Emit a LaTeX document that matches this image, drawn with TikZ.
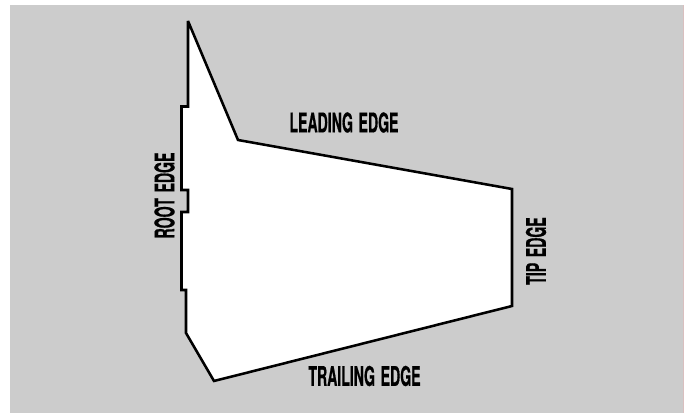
\documentclass[tikz,border=0pt]{standalone}
\usepackage{fontspec}
\setmainfont[FakeStretch=0.52,FakeBold=0.6]{TeX Gyre Heros Bold}

\begin{document}
\begin{tikzpicture}[outline/.style={line width=1.45pt, miter limit=2, fill=white}, label/.style={font=\fontsize{15.4}{16}\selectfont, inner sep=0pt}]

\useasboundingbox (0,0) rectangle (13.88,8.26);
\fill[black!20] (0.2,0) rectangle (13.66,8.16); \draw[red!40!black!25, line width=0.3pt] (13.66,0)--(13.66,8.16);
\draw[outline] (3.76,7.84)--(4.76,5.46)--(10.24,4.48)--(10.24,2.14)--(4.28,0.64)--(3.72,1.60)--(3.72,2.46)--(3.63,2.46)--(3.63,4.02)--(3.76,4.02)--(3.76,4.46)--(3.63,4.46)--(3.63,6.13)--(3.76,6.13)--cycle;
\node[label] (leading) at (6.88,5.81) {LEADING\hspace{1pt} EDGE}; \node[label] (trailing) at (7.29,0.74) {TRAILING\hspace{1pt} EDGE};
\node[label, rotate=90] (root) at (3.29,4.35) {ROOT\hspace{1pt} EDGE}; \node[label, rotate=90] (tip) at (10.72,3.24) {TIP\hspace{1pt} EDGE};
\end{tikzpicture}
\end{document}
